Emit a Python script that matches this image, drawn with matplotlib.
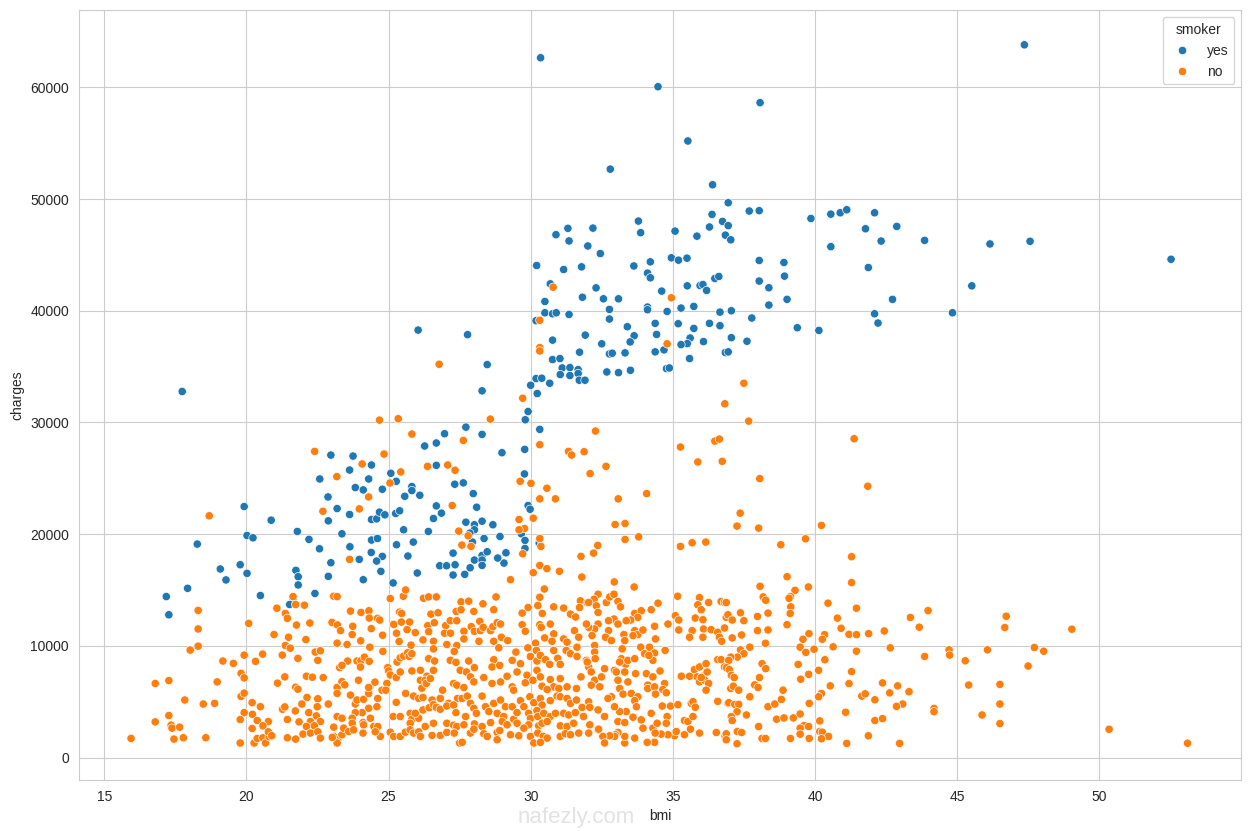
import matplotlib
matplotlib.use("Agg")
import matplotlib.pyplot as plt
import seaborn as sns
import pandas as pd

# (bmi, charges) pairs
yes_upper = [
(30.35,62650),(34.48,60060),(38.07,58630),(47.37,63810),(35.53,55200),(32.80,52680),(36.40,51280),
(36.95,49670),(37.69,48930),(38.04,48960),(36.38,48630),(36.75,48000),(36.95,47620),(36.29,47500),
(36.85,46770),(37.04,46350),(35.85,46680),(35.08,47130),(33.79,48030),(33.87,46990),(32.19,47400),
(31.31,47380),(30.89,46810),(31.35,46250),(32.01,45800),(32.45,45120),(30.21,44050),(31.16,43690),
(31.79,43930),(33.63,44010),(34.21,44380),(34.11,43370),(34.21,42950),(34.95,44740),(35.20,44530),
(35.50,44710),(30.69,42410),(32.30,42050),(31.82,41210),(32.56,41070),(33.09,41070),(30.50,40830),
(30.50,39820),(30.77,39730),(30.90,39820),(31.35,39670),(30.19,39110),(32.77,40120),(32.77,39260),
(34.11,40330),(34.11,40090),(34.80,39940),(34.61,41760),(35.29,40240),(35.74,40390),(35.51,42230),
(35.96,42260),(36.06,42350),(36.19,41820),(36.48,42890),(36.62,43070),(36.66,39880),(37.06,40000),
(38.04,44500),(38.91,44320),(38.93,43100),(38.04,42660),(38.38,42060),(39.02,41020),(38.38,40510),
(37.78,39350),(39.86,48260),(40.56,48650),(40.89,48770),(41.12,49040),(42.10,48770),(41.78,47340),
(42.88,47550),(42.33,46240),(43.86,46300),(40.56,45740),(46.16,45980),(47.57,46220),(52.53,44610),
(41.88,43870),(45.52,42230),(42.73,41020),(44.84,39820),(42.10,39730),(42.22,38900),(39.38,38480),
(40.14,38240),(36.29,38870),(36.66,38660),(35.19,38840),(34.38,38870),(35.74,38420),(33.40,38570),
(31.92,37820),(33.64,37760),(34.43,37880),(30.77,37370),(32.50,37040),(33.50,37210),(35.61,37560),
(35.51,37060),(35.29,36970),(36.08,37240),(37.06,37590),(37.61,37270),(34.69,36500),(34.38,36320),
(32.77,36140),(32.87,36200),(33.32,36230),(31.72,36290),(36.85,36260),(36.95,36320),(30.77,35630),
(31.03,35720),(35.59,35720),
]
yes_mid = [
(31.11,34880),(31.38,34910),(31.67,34730),(31.04,34290),(31.38,34200),(31.67,34380),(31.71,33780),
(31.91,33780),(32.68,34520),(33.09,34460),(33.51,34670),(34.78,34820),(34.88,34880),(30.19,33930),
(30.39,33960),(30.67,33510),(30.00,33330),(30.23,32590),(29.91,30980),(29.81,30240),(30.32,29380),
(29.79,27590),(28.99,27290),(29.78,25390),(29.91,22560),(29.98,22230),(28.92,19790),(29.67,20030),
(29.80,19440),(29.80,18720),(29.13,18330),(29.06,17410),(30.30,19200),
]
yes_left = [
(17.74,32770),(26.04,38270),(27.78,37860),(28.47,35180),(28.29,32830),(27.72,29580),(28.29,28930),
(26.97,28990),(26.68,28160),(26.27,27890),(22.97,27080),(23.75,26990),(23.63,25740),(24.40,26190),
(22.58,24940),(24.30,24940),(23.83,24170),(24.11,23960),(24.78,24020),(25.08,25450),(25.27,24730),
(25.82,24260),(25.82,23900),(26.10,23480),(25.57,23390),(26.68,26160),(27.33,24470),(27.63,24590),
(27.98,23630),(28.10,22410),(26.68,22530),(26.86,21880),(26.58,21400),(26.40,20240),(22.87,23330),
(23.19,22290),(23.63,21760),(24.40,21310),(24.58,21370),(24.68,21970),(24.87,21730),(25.25,21850),
(25.39,22090),(22.88,21190),(23.36,20030),(25.53,20390),(21.79,20240),(22.20,19530),(22.57,18690),
(23.64,18870),(23.97,17740),(22.97,17440),(22.88,16220),(24.40,19470),(24.61,19610),(24.39,18360),
(24.78,18010),(24.58,17590),(24.73,16670),(24.11,15920),(25.16,15630),(25.28,19050),(25.87,19290),
(25.68,18040),(26.01,16520),(27.72,21070),(28.02,20840),(28.02,20390),(28.29,21160),(28.67,20840),
(27.86,20090),(27.95,19290),(28.36,19610),(27.27,18300),(28.02,17680),(28.29,18090),(28.29,17680),
(28.29,17200),(28.47,18420),(28.84,17860),(26.80,17170),(27.04,17170),(27.34,17260),(27.27,16340),
(27.68,16400),(27.87,16990),(19.92,22470),(20.87,21250),(20.02,19880),(20.23,19670),(18.27,19110),
(19.78,17260),(20.02,16490),(19.08,16880),(19.28,15900),(17.93,15150),(21.74,16760),(21.82,16190),
(21.82,15450),(17.18,14410),(17.27,12780),(20.49,14500),(21.64,14230),(21.52,13700),(22.41,14690),
]

no_high = [
(30.79,42110),(34.95,41160),(34.80,37040),(30.32,36700),(30.32,36400),(30.32,39150),
(37.50,33510),(36.83,31670),(37.67,30120),(29.72,32170),(32.28,29230),(30.32,28010),(31.33,27410),
(31.44,27080),(31.88,27380),(35.27,27800),(36.48,28330),(36.64,28510),(41.38,28540),(35.88,26460),
(36.74,26520),(32.65,26070),(32.09,25420),(29.63,24730),(30.01,24550),(30.57,24110),(30.32,23160),
(30.87,23160),(33.08,23160),(34.08,23630),(38.06,24970),(41.86,24290),(29.59,21310),(30.09,21430),
(29.78,20510),(29.59,20390),(32.97,20860),(33.32,20950),(37.37,21880),(37.26,20720),(38.02,20540),
(40.23,20780),(33.32,19520),(33.80,19760),(30.32,19610),(30.36,18900),(32.36,18990),(31.77,18010),
(32.21,18300),(35.27,18900),(35.68,19230),(36.16,19290),(38.80,19050),(39.67,19580),(41.29,17980),
(29.72,18240),(30.09,16550),(30.32,17200),(30.57,16910),(31.01,16670),(29.29,15920),(31.80,16160),
(32.94,15720),(33.64,15270),(30.48,15090),(39.02,16190),(41.29,15660),(38.07,15330),(39.77,15270),
(39.30,14970),
(26.78,35210),(24.68,30210),(25.34,30330),(28.58,30300),(25.82,28960),(27.63,28390),(22.40,27410),
(24.84,27170),(24.07,26280),(23.18,25150),(25.43,25570),(26.37,26070),(27.08,26190),(27.34,25720),
(25.05,24580),(24.30,23330),(23.97,22260),(22.69,22050),(27.24,22560),(18.69,21640),(27.47,20270),
(27.80,19850),(27.58,19020),(27.90,18900),(23.63,17740),
]
no_band_a = [
(18.30,13170),(18.30,11510),(18.30,9970),(18.02,9620),(20.08,12010),(21.07,13370),(21.37,12900),
(21.44,12460),(21.76,11860),(21.64,14410),(21.73,13700),(20.97,11010),(21.48,10770),(21.37,10030),
(21.54,9790),(21.26,9170),(21.81,8880),(19.92,9170),(20.57,9260),(20.32,8610),(19.17,8640),
(19.54,8430),(19.81,7540),(19.92,7130),(21.35,7220),(21.09,6660),(21.73,6300),(21.81,6120),
(16.79,6630),(17.27,6890),(18.97,6770),(17.83,5150),(18.48,4790),(18.88,4850),(19.81,5470),
(19.92,5770),(20.20,4910),(20.49,4550),(21.27,4320),(21.35,4530),(21.72,4170),(19.92,4020),
(20.21,3870),(16.79,3190),(17.27,3760),(17.35,2900),(17.38,2630),(17.65,2720),(19.78,3400),
(20.38,3310),(20.77,3220),(20.58,2840),(20.20,2600),(21.44,3400),(21.85,3190),(15.94,1710),
(17.45,1650),(17.78,1770),(18.57,1770),(19.78,1300),(20.27,1300),(20.38,1710),(20.58,1770),
(20.67,1300),(20.80,1860),(20.77,2300),(20.89,1950),(21.44,1770),(21.73,1650),
]
no_band_b = [
(23.07,14440),(23.19,14410),(25.06,14230),(25.52,14440),(25.60,15000),(26.23,14260),(26.41,14380),
(26.68,14380),(22.04,13640),(23.66,13110),(24.03,12990),(24.31,13140),(24.32,12490),(24.61,12460),
(24.69,12310),(25.39,13020),(25.46,12900),(26.49,12840),(26.74,12960),(27.38,13080),(22.23,12040),
(23.01,12100),(23.20,11870),(23.31,11360),(23.74,11750),(23.72,11010),(24.39,11540),(24.79,10950),
(25.18,11920),(25.45,12130),(25.28,11130),(25.74,12130),(25.65,11450),(25.94,11180),(26.38,11810),
(26.41,11270),(26.61,12070),(27.01,11810),(26.97,11130),(27.18,11130),(27.17,12250),(27.40,12250),
(22.09,10560),(23.19,10240),(23.54,10120),(24.02,10450),(24.34,9880),(24.80,9500),(25.37,10390),
(25.79,10060),(26.21,10530),(26.58,10410),(26.58,9730),(27.05,10120),(27.40,10030),(22.42,9440),
(22.60,9560),(27.31,9500),(22.51,8700),(23.56,8640),(23.28,8050),(23.36,8250),(23.89,8640),
(24.03,8670),(24.15,8990),(24.32,8610),(24.01,8100),(24.97,8050),(25.30,8550),(25.41,8930),
(25.53,9080),(25.67,9380),(25.73,9050),(25.82,9290),(26.41,8850),(26.62,8640),(27.17,8700),
(27.37,8520),(22.11,7280),(22.32,7190),(22.70,7160),(23.19,6270),(23.36,6800),(23.46,6510),
(23.94,6920),(24.34,6330),(24.52,6750),(25.00,7750),(25.06,7390),(25.27,7160),(25.41,7660),
(25.82,7750),(26.12,7810),(26.12,6920),(26.35,7280),(26.29,6920),(26.58,7810),(26.17,6210),
(26.33,6630),(26.47,7070),(27.29,6630),(27.40,6480),(27.52,7810),(22.13,5380),(22.51,5260),
(22.88,4790),(23.19,5740),(23.66,5590),(23.83,4790),(23.89,5150),(24.12,5210),(24.30,5740),
(24.30,6270),(24.62,5290),(24.77,6030),(24.94,6630),(24.90,6030),(25.27,4940),(25.60,5740),
(25.88,5500),(26.06,5290),(26.21,5380),(26.53,5150),(26.90,6030),(26.82,5290),(27.11,4850),
(27.43,5290),(21.95,4790),(22.49,4550),(24.59,4550),(24.30,4410),(24.07,4020),(23.83,4020),
(22.19,4020),(22.46,3730),(22.60,3220),(22.25,3220),(23.19,3670),(23.36,3520),(23.72,3520),
(23.72,3070),(24.10,3130),(24.36,3520),(25.16,3670),(25.41,3670),(25.76,3960),(25.82,3430),
(25.76,3070),(26.06,3520),(25.94,3960),(26.21,4260),(26.43,4460),(26.58,4730),(26.68,4490),
(26.82,4320),(27.05,4610),(27.29,4700),(27.37,4020),(26.58,3070),(27.05,3070),(27.29,2900),
(27.40,2780),(22.11,2780),(22.39,2840),(23.07,2720),(21.99,2100),(22.25,2190),(22.51,2300),
(22.60,1740),(23.07,1890),(23.21,1590),(23.36,2040),(23.42,2630),(23.60,2330),(23.77,2480),
(24.10,2190),(24.12,2930),(24.48,2780),(24.62,2780),(24.71,1890),(24.53,2300),(25.06,2270),
(25.18,1890),(25.41,1890),(25.59,2270),(25.76,2480),(25.88,2190),(26.06,2300),(26.12,1890),
(26.29,2780),(26.53,1980),(26.82,1980),(27.05,2250),(27.31,2190),(27.50,1300),(23.19,1300),
(23.02,1800),
]
no_band_c = [
(30.32,14350),(28.78,14380),(27.55,13940),(27.82,14000),(28.32,13760),(28.70,13230),(28.00,13080),
(27.55,13230),(29.91,13430),(29.70,12930),(30.25,13610),(30.41,12900),(30.81,13490),(31.16,13380),
(31.40,12840),(31.75,14030),(31.72,13430),(31.99,13850),(31.58,12580),(28.21,12190),(27.91,11720),
(28.02,11300),(28.23,11360),(28.33,11660),(28.59,11360),(28.67,11720),(28.82,12070),(28.94,11950),
(27.65,11300),(27.65,10620),(28.18,10410),(28.70,10410),(28.97,10770),(29.19,10470),(29.70,11890),
(29.81,11300),(30.32,11890),(30.37,11660),(30.69,11950),(30.49,10710),(30.81,11070),(30.75,10410),
(31.16,10620),(31.28,10330),(31.54,11360),(31.69,10770),(30.17,10240),(27.82,8640),(28.02,8050),
(28.70,8760),(28.64,8110),(28.91,8250),(28.88,9820),(29.35,8700),(29.48,9440),(29.64,8400),
(29.90,9820),(29.99,9050),(30.20,9590),(30.22,8640),(30.34,9140),(30.52,8760),(30.67,8340),
(30.81,9590),(30.95,8880),(31.25,9590),(31.40,9290),(31.63,9050),(31.63,9880),(31.04,8340),
(27.74,7660),(27.88,7220),(28.00,6770),(28.35,7160),(28.64,6630),(28.94,6770),(29.17,7280),
(29.35,6330),(29.52,7660),(29.87,7370),(30.08,6920),(30.22,7810),(30.34,7220),(30.40,6390),
(30.69,6980),(30.81,6330),(31.04,7070),(31.28,6330),(31.61,6180),(31.77,7220),(27.65,6270),
(29.40,6030),(29.81,6690),(30.58,6090),(30.99,6180),(27.59,5290),(27.77,5500),(28.29,5500),
(27.88,4850),(28.41,4550),(28.70,4850),(28.94,5150),(29.11,4550),(29.35,4550),(29.64,5090),
(29.76,4550),(29.97,5440),(30.11,4910),(30.34,5290),(30.40,4700),(30.69,5090),(30.93,5500),
(31.04,5440),(31.28,5290),(31.40,4850),(31.61,5150),(31.81,4490),(28.00,4410),(27.71,3670),
(28.09,3960),(28.53,4110),(28.82,3960),(29.05,3670),(29.40,3430),(29.52,4020),(29.93,3960),
(29.99,3490),(30.22,4200),(30.25,3670),(30.46,3960),(30.69,3670),(30.87,3960),(31.16,3960),
(31.34,3810),(31.57,4020),(31.86,3670),(27.65,2930),(28.02,3010),(28.29,2780),(28.59,3130),
(29.00,3220),(29.17,2930),(29.52,3070),(29.93,2930),(30.28,2840),(30.40,3070),(30.58,3220),
(31.04,2840),(31.28,2780),(31.51,3070),(27.59,1360),(27.88,2190),(28.00,2540),(28.35,2130),
(28.47,1890),(28.82,2250),(28.91,2420),(29.29,2040),(29.58,1950),(29.76,2630),(29.99,1890),
(30.11,1300),(30.25,2190),(30.44,1890),(30.58,1740),(30.34,1360),(31.04,1890),(31.22,2130),
(31.40,2040),(31.69,2190),(28.82,1590),
]
no_band_d = [
(35.17,14440),(35.94,14320),(35.88,13670),(36.00,13230),(36.26,13880),(36.70,13970),(36.82,13880),
(32.37,14620),(32.23,14170),(32.04,13880),(32.31,13580),(32.37,12990),(32.66,13880),(32.78,14380),
(32.93,14620),(33.07,13970),(33.16,13490),(34.48,13820),(34.24,13230),(33.66,12900),(33.89,13140),
(33.77,12550),(33.52,12310),(33.36,12250),(32.93,12400),(32.74,12250),(33.07,11950),(32.74,11360),
(32.63,10770),(32.84,10470),(32.37,11950),(32.25,11510),(32.04,11660),(31.96,11950),(32.16,10920),
(33.66,11360),(33.77,11010),(33.60,10920),(33.95,11420),(33.28,11010),(33.31,10470),(34.36,11750),
(34.39,10620),(34.83,11950),(35.09,12700),(35.21,12310),(35.21,11420),(35.79,12490),(36.06,12340),
(36.08,11510),(35.68,11360),(35.59,10770),(36.06,10770),(36.35,11450),(36.58,11210),(36.64,10770),
(36.72,10410),(36.88,12550),(36.82,11600),(32.25,10030),(32.25,9440),(32.27,8850),(31.96,8700),
(32.04,8110),(31.99,8550),(32.13,7660),(32.25,6920),(32.60,7960),(32.49,7220),(32.43,6330),
(32.13,6480),(32.04,4990),(32.08,4500),(32.37,4260),(32.60,3670),(32.08,2930),(32.04,2190),
(32.37,2480),(32.60,1890),(33.22,9730),(33.19,8850),(33.34,8340),(33.42,8700),(33.13,8550),
(32.95,7810),(33.01,7660),(33.31,7660),(33.66,8850),(33.69,7510),(33.87,9880),(34.18,9880),
(34.01,9290),(34.36,9350),(34.30,8700),(34.16,9140),(34.73,9590),(34.07,7510),(34.30,7220),
(34.55,7750),(34.12,6480),(34.12,6180),(34.36,6330),(34.71,6630),(34.65,6090),(34.77,5800),
(34.39,5680),(33.07,6920),(33.13,6180),(33.42,6770),(33.25,5680),(32.84,5440),(32.72,5290),
(33.54,5740),(33.77,5440),(33.66,5090),(33.72,4550),(33.36,4110),(33.13,4110),(32.95,4550),
(33.07,3220),(33.31,3130),(33.60,3610),(33.89,3370),(34.24,3960),(33.95,2630),(34.30,2630),
(34.45,3070),(34.80,3670),(34.77,3070),(34.63,4610),(34.92,4610),(35.18,4730),(35.30,7280),
(35.59,7280),(35.76,7870),(35.94,8110),(35.86,7220),(36.06,7280),(35.94,6770),(36.21,7660),
(36.12,6920),(36.26,6630),(36.17,6030),(36.58,8760),(36.70,8760),(36.82,8110),(36.17,8400),
(36.00,7160),(35.65,4850),(35.71,5000),(35.79,4500),(35.41,3310),(35.53,3220),(35.71,3670),
(35.62,2540),(35.94,2190),(36.58,5030),(36.94,4850),(36.53,2240),(36.84,1890),(35.41,2040),
(35.06,1950),(35.12,2330),(34.83,2040),(34.59,2100),(34.38,2190),(34.36,1360),(34.10,1360),
(33.66,1740),(33.31,1300),(33.31,1890),(33.07,2250),(32.98,2040),(32.95,1890),(32.78,1950),
(32.54,1890),(32.39,2540),(32.60,1300),
]
no_band_e = [
(38.18,14380),(38.27,14080),(39.14,14410),(39.09,14260),(39.15,13490),(39.13,12900),(39.02,11890),
(36.88,13875),(36.94,12780),(37.09,12310),(37.38,12960),(37.50,12250),(37.98,12630),(38.35,12930),
(37.98,11360),(38.35,11420),(37.09,10710),(37.42,10970),(38.26,10230),(40.46,13820),(41.46,13370),
(40.79,12480),(40.92,11570),(41.20,11030),(41.46,11000),(41.89,11090),(42.44,11330),(43.36,12540),
(39.79,11090),(39.58,10590),(40.34,11000),(40.26,10590),(39.48,9880),(39.68,9410),(39.97,9700),
(40.64,9910),(41.46,9520),(42.65,9820),(37.71,9880),(37.38,9640),(37.50,9290),(37.27,8990),
(37.04,8990),(36.97,8700),(36.89,8040),(36.99,7870),(37.06,7360),(37.16,7160),(37.04,6180),
(37.13,6390),(37.32,6030),(38.14,8400),(38.27,7955),(38.05,7160),(37.88,6505),(38.00,6270),
(39.41,8340),(39.78,7450),(39.50,7010),(40.35,8755),(40.13,7810),(41.29,7690),(40.54,6415),
(41.20,6620),(38.88,6030),(40.23,5735),(40.13,5440),(41.65,5500),(41.77,5700),(42.11,5170),
(42.38,6680),(42.63,5790),(42.91,6415),(43.31,5890),(43.09,4790),(42.87,4580),(37.71,5440),
(36.97,4910),(37.18,4760),(37.32,4760),(37.26,4100),(37.06,3660),(37.09,3310),(37.59,3810),
(38.35,4550),(38.59,4790),(38.82,5200),(39.80,4850),(39.48,3900),(38.65,3430),(38.91,3545),
(39.24,3545),(38.02,2775),(41.08,4050),(42.11,3310),(42.38,3485),(39.62,2865),(39.78,2775),
(39.48,2630),(39.48,2095),(40.17,3280),(40.17,2330),(40.26,2270),(40.48,1890),(40.23,1680),
(36.88,2125),(36.88,1590),(37.27,2330),(37.42,2240),(37.26,1235),(38.14,1710),(38.26,1710),
(39.14,1710),(39.80,1710),(41.12,1265),(41.88,1945),(42.98,1265),
]
no_right = [
(43.98,13150),(43.67,11670),(46.73,12650),(46.68,11640),(49.04,11490),(44.72,9640),(44.74,9170),
(43.86,9050),(45.29,8660),(46.07,9640),(47.72,9850),(48.05,9520),(47.50,8190),(44.19,4400),
(44.19,4100),(45.41,6490),(46.51,6550),(46.51,4790),(45.88,3810),(46.51,3040),(50.35,2530),
(53.11,1280),
]

yes_groups = [yes_upper, yes_mid, yes_left]
no_groups = [no_high, no_band_a, no_band_b, no_band_c, no_band_d, no_band_e, no_right]

rows = []
for g in yes_groups:
    for b, c in g:
        rows.append((b, c, "yes"))
for g in no_groups:
    for b, c in g:
        rows.append((b, c, "no"))
df = pd.DataFrame(rows, columns=["bmi", "charges", "smoker"])

sns.set_style("whitegrid")
plt.rcParams["font.family"] = ["Liberation Sans", "DejaVu Sans"]

fig = plt.figure(figsize=(12.5, 8.31), dpi=100)
ax = fig.add_axes([0.063, 0.0614, 0.930, 0.9262])
sns.scatterplot(data=df, x="bmi", y="charges", hue="smoker", hue_order=["yes", "no"],
                palette=["#1f77b4", "#ff7f0e"], ax=ax)
ax.set_xlim(14.1, 55.0)
ax.set_ylim(-2010, 66900)
ax.set_xticks([15, 20, 25, 30, 35, 40, 45, 50])
ax.set_yticks([0, 10000, 20000, 30000, 40000, 50000, 60000])
ax.legend(title="smoker", loc="upper right")

# faint site watermark seen at the bottom of the reference
fig.text(0.508, 0.016, "nafezly.com", ha="right", va="center", fontsize=16,
         color="#e2e2e2", zorder=0)

fig.savefig("out.png", dpi=100)
